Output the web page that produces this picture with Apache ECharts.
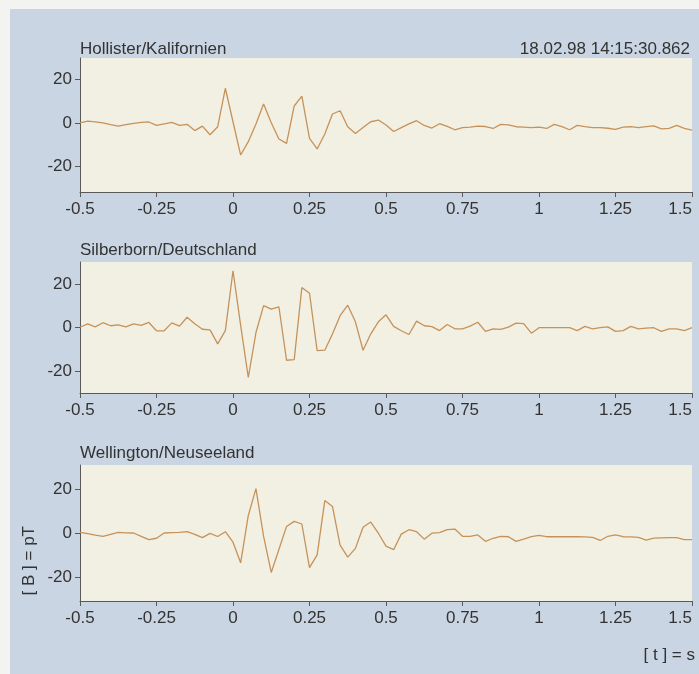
<!DOCTYPE html>
<html>
<head>
<meta charset="utf-8">
<script src="https://cdn.jsdelivr.net/npm/echarts@6/dist/echarts.min.js"></script>
<style>
html,body{margin:0;padding:0;background:#f3f3f1;overflow:hidden;}
#chart{width:699px;height:674px;}
</style>
</head>
<body>
<div id="chart"></div>
<script>
// ---- data ----
const stations = ['Hollister/Kalifornien', 'Silberborn/Deutschland', 'Wellington/Neuseeland'];
const timestamp = '18.02.98 14:15:30.862';
const tStart = -0.5, tStep = 0.025, nSamples = 81;
const times = [];
for (let i = 0; i < nSamples; i++) times.push(+(tStart + tStep * i).toFixed(3));

const hollister = [
  0, 0.8, 0.4, 0, -0.8, -1.5, -0.8, -0.2, 0.2, 0.4,
  -1.2, -0.5, 0.2, -1.2, -0.7, -3.6, -1.5, -5.5, -1.8, 16,
  0.5, -14.9, -8.7, -0.5, 8.7, 0, -7.5, -9.5, 7.8, 12.4,
  -7.2, -12.1, -5.2, 4.1, 5.6, -1.8, -4.9, -2.2, 0.5, 1.3,
  -1, -4, -2.2, -0.5, 1, -1.2, -2.4, -0.4, -1.6, -3.2,
  -2.2, -2, -1.5, -1.7, -2.6, -0.7, -0.9, -1.8, -2, -2.2,
  -2, -2.6, -0.7, -1.8, -3.2, -1.2, -1.8, -2.2, -2.2, -2.5,
  -3, -2, -1.8, -2.2, -1.8, -1.4, -2.8, -2.6, -1.2, -2.6,
  -3.4
];
const silberborn = [
  0.1, 1.7, 0.3, 2.2, 0.8, 1.2, 0.3, 1.7, 1.0, 2.3,
  -1.5, -1.5, 2.1, 0.6, 4.7, 1.7, -0.8, -1.1, -7.5, -1.4,
  26, 1, -22.9, -2.3, 10, 8.4, 9.5, -15, -14.7, 18.3,
  15.7, -10.6, -10.4, -3, 5.4, 10.2, 2.6, -10.4, -3, 2.6,
  5.8, 0.5, -1.5, -3.2, 2.9, 0.8, 0.4, -1.4, 1.4, -0.6,
  -0.6, 0.6, 2.4, -1.8, -0.6, -0.9, 0.2, 2, 1.8, -2.6,
  -0.1, -0.1, -0.1, -0.1, -0.1, -1.4, 0.5, -0.6, -0.1, 0.3,
  -1.8, -1.4, 0.5, -0.6, -0.3, -0.1, -1.8, -0.6, -0.6, -1.4,
  -0.1
];
const wellington = [
  0.3, -0.3, -1, -1.5, -0.6, 0.3, 0.1, 0, -1.5, -3,
  -2.4, 0, 0.2, 0.3, 0.6, -0.6, -2.1, -0.2, -1.6, 0.6,
  -4.2, -13.6, 8, 20.2, -1.5, -18, -7.5, 3, 5.3, 4.1,
  -15.8, -10, 14.8, 12.1, -5.5, -11, -7, 2.6, 5, -0.1,
  -6, -7.6, -0.5, 1.5, 0.6, -2.8, -0.1, 0.2, 1.5, 1.8,
  -1.5, -1.5, -0.9, -3.8, -2.4, -1.5, -1.7, -3.8, -2.8, -1.7,
  -1.1, -1.7, -1.7, -1.7, -1.7, -1.7, -1.8, -2, -3.4, -1.5,
  -0.9, -1.7, -1.8, -2, -3.2, -2.3, -2.2, -2.1, -2.1, -3,
  -3
];
const seriesValues = [hollister, silberborn, wellington];
const yTicks = [-20, 0, 20];
const yLabel = '[ B ] = pT';
const xLabel = '[ t ] = s';

// ---- layout / style ----
const FONT = '"Liberation Sans", Arial, sans-serif';
const FS = 17;
const TXT = '#333333';
const AX = '#5a5a5a';
const panels = [
  { top: 58, height: 134, min: -32, max: 30, titleTop: 41 },
  { top: 262, height: 131, min: -30, max: 30, titleTop: 242 },
  { top: 465, height: 136, min: -31, max: 31, titleTop: 445 }
];

const chart = echarts.init(document.getElementById('chart'), null, { renderer: 'canvas' });

const grids = [], xAxes = [], yAxes = [], series = [], titles = [];
panels.forEach((p, k) => {
  grids.push({ left: 80, width: 612, top: p.top, height: p.height, show: true,
    backgroundColor: '#f2f0e2', borderWidth: 0, containLabel: false, outerBoundsMode: 'none' });
  xAxes.push({
    type: 'value', gridIndex: k, min: -0.5, max: 1.5, interval: 0.25,
    axisLine: { show: true, onZero: false, lineStyle: { color: AX, width: 1 } },
    axisTick: { show: true, inside: false, length: 5, lineStyle: { color: AX } },
    axisLabel: { color: TXT, fontSize: FS, fontFamily: FONT, margin: 9, hideOverlap: false,
      alignMaxLabel: 'right' },
    splitLine: { show: false }
  });
  yAxes.push({
    type: 'value', gridIndex: k, min: p.min, max: p.max,
    axisLine: { show: true, onZero: false, lineStyle: { color: AX, width: 1 } },
    axisTick: { show: true, inside: false, length: 5, customValues: yTicks, lineStyle: { color: AX } },
    axisLabel: { color: TXT, fontSize: FS, fontFamily: FONT, margin: 8, customValues: yTicks },
    splitLine: { show: false }
  });
  series.push({
    type: 'line', xAxisIndex: k, yAxisIndex: k,
    data: times.map((t, i) => [t, seriesValues[k][i]]),
    showSymbol: false, symbol: 'none', smooth: false,
    lineStyle: { color: '#c6925a', width: 1.3 },
    animation: false
  });
  titles.push({ text: stations[k], left: 80, top: p.titleTop, padding: 0,
    textStyle: { color: TXT, fontSize: FS, fontWeight: 'normal', fontFamily: FONT } });
});
titles.push({ text: timestamp, right: 9, top: panels[0].titleTop, padding: 0,
  textStyle: { color: TXT, fontSize: FS, fontWeight: 'normal', fontFamily: FONT } });

chart.setOption({
  animation: false,
  backgroundColor: '#f3f3f1',
  title: titles,
  graphic: [
    { type: 'rect', z: -10, silent: true, shape: { x: 10, y: 9, width: 689, height: 665 },
      style: { fill: '#c9d5e2' } },
    { type: 'text', z: 10, left: 21, top: 526, rotation: Math.PI / 2,
      style: { text: yLabel, fill: TXT, fontSize: FS, fontFamily: FONT } },
    { type: 'text', z: 10, right: 4, top: 647,
      style: { text: xLabel, fill: TXT, fontSize: FS, fontFamily: FONT } }
  ],
  grid: grids,
  xAxis: xAxes,
  yAxis: yAxes,
  series: series
});
</script>
</body>
</html>
